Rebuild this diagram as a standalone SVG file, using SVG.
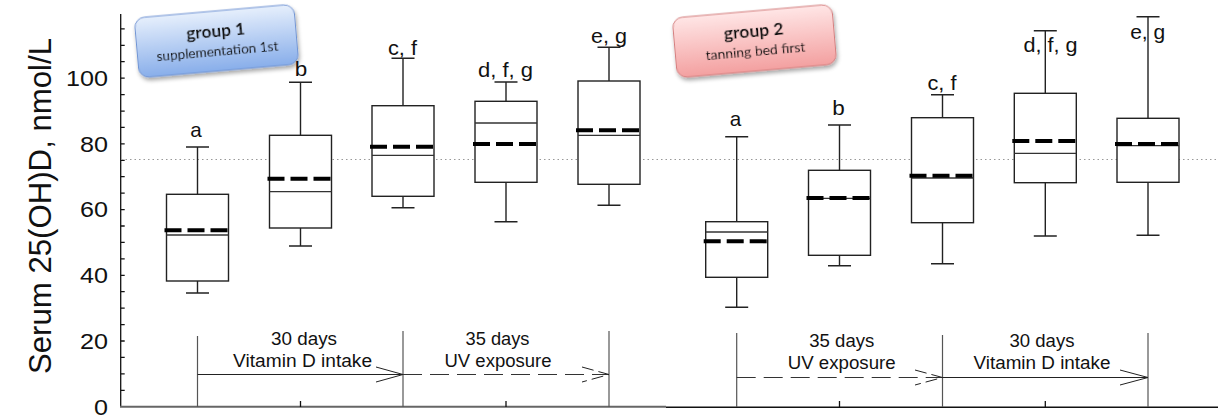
<svg xmlns="http://www.w3.org/2000/svg" width="1218" height="418" viewBox="0 0 1218 418">
<style>
.ax{stroke:#111;stroke-width:1.3;fill:none}
.tk{font-family:"Liberation Sans",Arial,sans-serif;font-size:22px;fill:#111;text-anchor:end}
.ttl{font-family:"Liberation Sans",Arial,sans-serif;font-size:31px;fill:#111;text-anchor:middle}
.lbl{font-family:"Liberation Sans",Arial,sans-serif;font-size:21px;fill:#111;text-anchor:middle}
.tl{font-family:"Liberation Sans",Arial,sans-serif;font-size:17.5px;fill:#111;text-anchor:middle}
.box{fill:#fff;stroke:#222;stroke-width:1.4}
.wh{stroke:#222;stroke-width:1.4;fill:none}
.med{stroke:#333;stroke-width:1.3}
.mean{stroke:#000;stroke-width:4;stroke-dasharray:17 6}
.ref{stroke:#999;stroke-width:1;stroke-dasharray:1.5 3}
.arr{stroke:#222;stroke-width:1;fill:none}
.arrd{stroke:#333;stroke-width:1;fill:none;stroke-dasharray:19 8}
.vl{stroke:#555;stroke-width:1.2}
.gt{font-family:"Lato","Open Sans",sans-serif;fill:#111;text-anchor:middle}
</style>
<defs>
<linearGradient id="gBlue" x1="0" y1="0" x2="0" y2="1">
<stop offset="0" stop-color="#e6effc"/><stop offset="1" stop-color="#88aeea"/>
</linearGradient>
<linearGradient id="gRed" x1="0" y1="0" x2="0" y2="1">
<stop offset="0" stop-color="#ffe6e6"/><stop offset="1" stop-color="#f3a0a0"/>
</linearGradient>
<filter id="sh" x="-20%" y="-30%" width="140%" height="170%">
<feGaussianBlur in="SourceAlpha" stdDeviation="2"/>
<feOffset dx="1" dy="3" result="b"/>
<feComponentTransfer><feFuncA type="linear" slope="0.35"/></feComponentTransfer>
<feMerge><feMergeNode/><feMergeNode in="SourceGraphic"/></feMerge>
</filter>
</defs>

<!-- axes -->
<g id="axes">
<line class="ax" x1="120.7" y1="14" x2="120.7" y2="407"/>
<line x1="120" y1="406.7" x2="666" y2="406.7" stroke="#666" stroke-width="2"/>
<line x1="666" y1="407.3" x2="1218" y2="407.3" stroke="#111" stroke-width="1.4"/>
<path class="ax" d="M120.7 390.3h4M120.7 373.8h4M120.7 357.4h4M120.7 341h4M120.7 324.6h4M120.7 308.1h4M120.7 291.7h4M120.7 275.3h4M120.7 258.9h4M120.7 242.4h4M120.7 226h4M120.7 209.6h4M120.7 193.1h4M120.7 176.7h4M120.7 160.3h4M120.7 143.9h4M120.7 127.4h4M120.7 111.1h4M120.7 94.6h4M120.7 78.2h4M120.7 61.7h4M120.7 45.3h4M120.7 28.9h4"/>
<path class="ax" d="M300.5 407v-6M506 407v-6M839.5 407v-6M1045.3 407v-6"/>
<text class="tk" x="108" y="414.5" textLength="14" lengthAdjust="spacingAndGlyphs">0</text>
<text class="tk" x="108" y="348.8" textLength="28" lengthAdjust="spacingAndGlyphs">20</text>
<text class="tk" x="108" y="283.1" textLength="28" lengthAdjust="spacingAndGlyphs">40</text>
<text class="tk" x="108" y="217.4" textLength="28" lengthAdjust="spacingAndGlyphs">60</text>
<text class="tk" x="108" y="151.7" textLength="28" lengthAdjust="spacingAndGlyphs">80</text>
<text class="tk" x="108" y="86" textLength="42" lengthAdjust="spacingAndGlyphs">100</text>
<text class="ttl" transform="translate(50.5 206) rotate(-90)" x="0" y="0" textLength="336" lengthAdjust="spacingAndGlyphs">Serum 25(OH)D, nmol/L</text>
<line class="ref" x1="121" y1="159.5" x2="1218" y2="159.5"/>
</g>

<!-- group labels -->
<g id="group1" filter="url(#sh)" transform="rotate(-5 216.5 41)">
<rect x="136.5" y="11" width="160" height="60" rx="10" fill="url(#gBlue)" stroke="#7094d4" stroke-width="1"/>
<text class="gt" x="216.5" y="37" font-size="17.5" font-weight="bold" textLength="59" lengthAdjust="spacingAndGlyphs">group 1</text>
<text class="gt" x="216.5" y="56" font-size="13.5" textLength="122" lengthAdjust="spacingAndGlyphs">supplementation 1st</text>
</g>
<g id="group2" filter="url(#sh)" transform="rotate(-5 754.5 41)">
<rect x="674.5" y="11" width="160" height="60" rx="10" fill="url(#gRed)" stroke="#d47e7e" stroke-width="1"/>
<text class="gt" x="754.5" y="37" font-size="17.5" font-weight="bold" textLength="60" lengthAdjust="spacingAndGlyphs">group 2</text>
<text class="gt" x="754.5" y="56" font-size="13.5" textLength="100" lengthAdjust="spacingAndGlyphs">tanning bed first</text>
</g>

<!-- box plots group 1 -->
<g id="g1a">
<path class="wh" d="M197.5 194.3V147M186 147h23M197.5 281V293M186 293h23"/>
<rect class="box" x="166.5" y="194.3" width="62" height="86.7"/>
<line class="med" x1="166.5" y1="235" x2="228.5" y2="235"/>
<line class="mean" x1="164.5" y1="230.3" x2="230.5" y2="230.3"/>
<text class="lbl" x="196" y="137" textLength="11.5" lengthAdjust="spacingAndGlyphs">a</text>
</g>
<g id="g1b">
<path class="wh" d="M300.5 135.3V82.3M289 82.3h23M300.5 228V246M289 246h23"/>
<rect class="box" x="269.5" y="135.3" width="62" height="92.7"/>
<line class="med" x1="269.5" y1="191.7" x2="331.5" y2="191.7"/>
<line class="mean" x1="267.5" y1="178.7" x2="333.5" y2="178.7"/>
<text class="lbl" x="301" y="75.5" textLength="12.5" lengthAdjust="spacingAndGlyphs">b</text>
</g>
<g id="g1c">
<path class="wh" d="M403 105.7V58.3M391.5 58.3h23M403 196.3V207.7M391.5 207.7h23"/>
<rect class="box" x="372" y="105.7" width="62" height="90.6"/>
<line class="med" x1="372" y1="155.3" x2="434" y2="155.3"/>
<line class="mean" x1="370" y1="146.7" x2="436" y2="146.7"/>
<text class="lbl" x="402.5" y="55" textLength="29" lengthAdjust="spacingAndGlyphs">c, f</text>
</g>
<g id="g1d">
<path class="wh" d="M506 101.3V82M494.5 82h23M506 182.3V221.7M494.5 221.7h23"/>
<rect class="box" x="475" y="101.3" width="62" height="81"/>
<line class="med" x1="475" y1="123" x2="537" y2="123"/>
<line class="mean" x1="473" y1="144" x2="539" y2="144"/>
<text class="lbl" x="505.5" y="76.7" textLength="55" lengthAdjust="spacingAndGlyphs">d, f, g</text>
</g>
<g id="g1e">
<path class="wh" d="M609 81V47.3M597.5 47.3h23M609 184.3V205.3M597.5 205.3h23"/>
<rect class="box" x="578" y="81" width="62" height="103.3"/>
<line class="med" x1="578" y1="135.3" x2="640" y2="135.3"/>
<line class="mean" x1="576" y1="130.3" x2="642" y2="130.3"/>
<text class="lbl" x="609" y="43.3" textLength="36" lengthAdjust="spacingAndGlyphs">e, g</text>
</g>

<!-- box plots group 2 -->
<g id="g2a">
<path class="wh" d="M736.7 221.7V136.7M725.2 136.7h23M736.7 277.3V307.3M725.2 307.3h23"/>
<rect class="box" x="705.7" y="221.7" width="62" height="55.6"/>
<line class="med" x1="705.7" y1="232" x2="767.7" y2="232"/>
<line class="mean" x1="703.7" y1="241.3" x2="769.7" y2="241.3"/>
<text class="lbl" x="735.5" y="125.7" textLength="11.5" lengthAdjust="spacingAndGlyphs">a</text>
</g>
<g id="g2b">
<path class="wh" d="M839.5 170.3V125M828 125h23M839.5 255.3V265.7M828 265.7h23"/>
<rect class="box" x="808.5" y="170.3" width="62" height="85"/>
<line class="med" x1="808.5" y1="198.3" x2="870.5" y2="198.3"/>
<line class="mean" x1="806.5" y1="198" x2="872.5" y2="198"/>
<text class="lbl" x="838.5" y="115" textLength="12.5" lengthAdjust="spacingAndGlyphs">b</text>
</g>
<g id="g2c">
<path class="wh" d="M942.5 117.7V94.7M931 94.7h23M942.5 222.7V263.7M931 263.7h23"/>
<rect class="box" x="911.5" y="117.7" width="62" height="105"/>
<line class="med" x1="911.5" y1="178" x2="973.5" y2="178"/>
<line class="mean" x1="909.5" y1="175.7" x2="975.5" y2="175.7"/>
<text class="lbl" x="942" y="89.5" textLength="29" lengthAdjust="spacingAndGlyphs">c, f</text>
</g>
<g id="g2d">
<path class="wh" d="M1045.3 93.3V30.7M1033.8 30.7h23M1045.3 182.7V236M1033.8 236h23"/>
<rect class="box" x="1014.3" y="93.3" width="62" height="89.4"/>
<line class="med" x1="1014.3" y1="153.3" x2="1076.3" y2="153.3"/>
<line class="mean" x1="1012.3" y1="141" x2="1078.3" y2="141"/>
<text class="lbl" x="1050.5" y="51.7" textLength="54" lengthAdjust="spacingAndGlyphs">d, f, g</text>
</g>
<g id="g2e">
<path class="wh" d="M1148 118.3V16.7M1136.5 16.7h23M1148 182.3V235.3M1136.5 235.3h23"/>
<rect class="box" x="1117" y="118.3" width="62" height="64"/>
<line class="med" x1="1117" y1="145.7" x2="1179" y2="145.7"/>
<line class="mean" x1="1115" y1="144" x2="1181" y2="144"/>
<text class="lbl" x="1147.7" y="39.3" textLength="35" lengthAdjust="spacingAndGlyphs">e, g</text>
</g>

<!-- timeline connectors -->
<g id="connectors">
<line class="vl" x1="197.5" y1="336" x2="197.5" y2="407" stroke="#777"/>
<line class="vl" x1="403" y1="331" x2="403" y2="407" stroke="#222"/>
<line class="vl" x1="609" y1="331" x2="609" y2="407" stroke="#777"/>
<line class="arr" x1="197.5" y1="374.5" x2="403" y2="374.5"/>
<polyline class="arr" points="376,367 403,374.5 376,382"/>
<line class="arrd" x1="403" y1="374.5" x2="609" y2="374.5"/>
<polyline class="arr" points="582,367 609,374.5 582,382" stroke-dasharray="12 5"/>

<line class="vl" x1="736.7" y1="333" x2="736.7" y2="407" stroke="#222"/>
<line class="vl" x1="942.5" y1="335" x2="942.5" y2="407" stroke="#222"/>
<line class="vl" x1="1148" y1="333" x2="1148" y2="407" stroke="#777"/>
<line class="arrd" x1="736.7" y1="377.5" x2="942.5" y2="377.5" stroke="#555"/>
<polyline class="arr" points="915,370 942.5,377.5 915,385" stroke-dasharray="12 5"/>
<line class="arr" x1="942.5" y1="377.5" x2="1148" y2="377.5" stroke="#666" stroke-width="1.6"/>
<polyline class="arr" points="1120,370 1148,377.5 1120,385"/>
</g>

<g id="timeline-text">
<text class="tl" x="304" y="345" textLength="66" lengthAdjust="spacingAndGlyphs">30 days</text>
<text class="tl" x="302.6" y="367" textLength="139" lengthAdjust="spacingAndGlyphs">Vitamin D intake</text>
<text class="tl" x="497.5" y="345" textLength="64" lengthAdjust="spacingAndGlyphs">35 days</text>
<text class="tl" x="498" y="367" textLength="107" lengthAdjust="spacingAndGlyphs">UV exposure</text>
<text class="tl" x="841.8" y="347" textLength="65" lengthAdjust="spacingAndGlyphs">35 days</text>
<text class="tl" x="841.7" y="369" textLength="108" lengthAdjust="spacingAndGlyphs">UV exposure</text>
<text class="tl" x="1042" y="347" textLength="65" lengthAdjust="spacingAndGlyphs">30 days</text>
<text class="tl" x="1042" y="369" textLength="137" lengthAdjust="spacingAndGlyphs">Vitamin D intake</text>
</g>
</svg>
